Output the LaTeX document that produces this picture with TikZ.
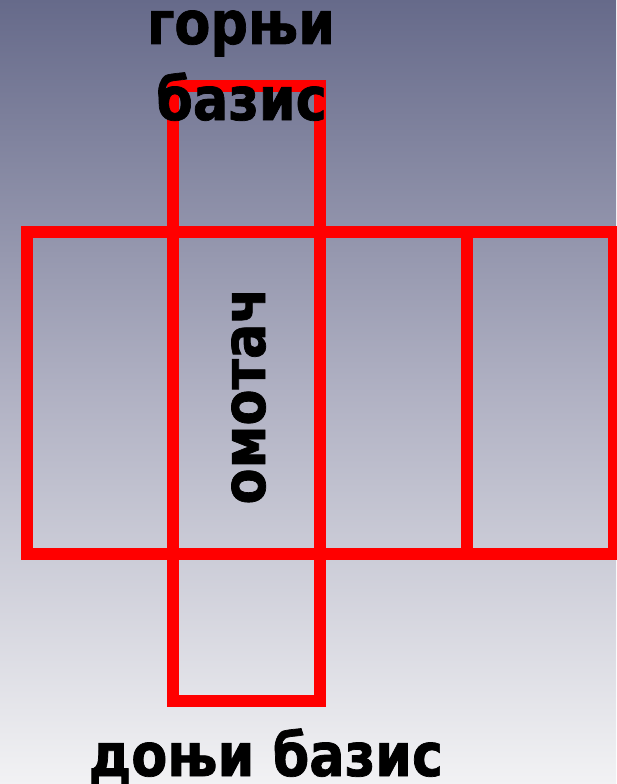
\documentclass[tikz,border=0pt]{standalone}
\usepackage{fontspec}
\setmainfont{DejaVu Sans}
\newfontfamily\lblfont[FakeStretch=0.875,FakeBold=1.2]{DejaVu Sans Bold}
\definecolor{bgtop}{RGB}{102,106,138}
\definecolor{bgmid}{RGB}{176,177,195}
\definecolor{bgbot}{RGB}{242,242,244}
\definecolor{netred}{RGB}{255,0,0}
\tikzset{
  netline/.style={draw=netred, line width=12pt, line join=miter},
  lbl/.style={font=\lblfont\fontsize{60}{64}\selectfont, text=black, inner sep=0pt, anchor=base}
}
\begin{document}
\begin{tikzpicture}[x=1pt,y=-1pt]
\useasboundingbox (0,0) rectangle (616,784);
\shade[top color=bgtop, bottom color=bgbot, middle color=bgmid] (0,0) rectangle (616,784);
% coordinates of the net
\coordinate (a1) at (26.5,232);
\coordinate (a2) at (172.5,232);
\coordinate (a3) at (319.5,232);
\coordinate (a4) at (467,232);
\coordinate (a5) at (614,232);
\coordinate (b1) at (26.5,554);
\coordinate (b2) at (172.5,554);
\coordinate (b3) at (319.5,554);
\coordinate (b4) at (467,554);
\coordinate (b5) at (614,554);
\coordinate (t2) at (172.5,86);
\coordinate (t3) at (319.5,86);
\coordinate (d2) at (172.5,701);
\coordinate (d3) at (319.5,701);
% lateral surface
\draw[netline] (a1) rectangle (b5);
\draw[netline] (a2) -- (b2);
\draw[netline] (a3) -- (b3);
\draw[netline] (a4) -- (b4);
% bases
\draw[netline] (a2) -- (t2) -- (t3) -- (a3);
\draw[netline] (b2) -- (d2) -- (d3) -- (b3);
% labels
\node[lbl] (top1) at (241,44) {горњи};
\node[lbl] (top2) at (241.5,120) {базис};
\node[lbl, rotate=90] (side) at (265,396) {омотач};
\node[lbl] (bot) at (266,776) {доњи базис};
\end{tikzpicture}
\end{document}
